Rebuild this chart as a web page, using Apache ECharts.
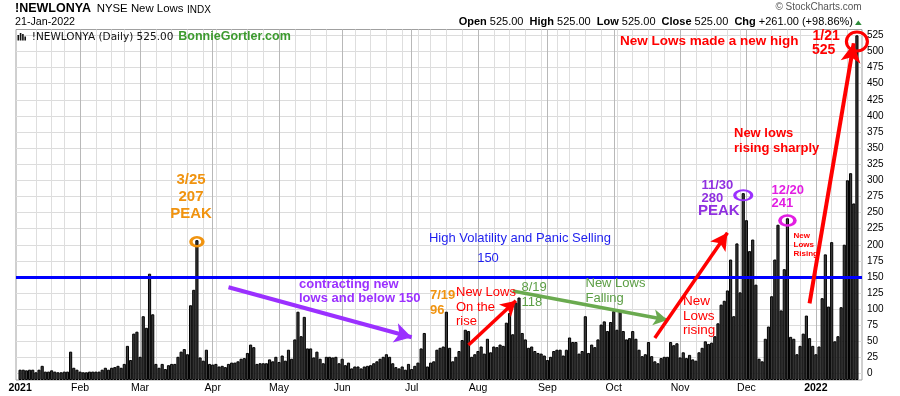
<!DOCTYPE html>
<html><head><meta charset="utf-8">
<script src="https://cdn.jsdelivr.net/npm/echarts@6/dist/echarts.min.js"></script>
<style>html,body{margin:0;padding:0;background:#fff}#c{width:900px;height:396px}</style>
</head><body><div id="c"></div>
<script>
// ---- data: NYSE new lows, daily ----
const jan21 = [6,6,5,6,6,2,6,12,3,3,5,3,2,2,3,3,34,9,6];
const feb21 = [3,2,2,3,3,3,3,6,9,6,9,10,12,9,15,43,21,62,65];
const mar21 = [26,89,71,155,92,15,9,15,7,13,15,15,26,34,38,30,106,130,207,25,20,37,15];
const apr21 = [14,15,11,12,10,15,17,17,19,23,24,32,45,41,15,16,16,16,22,19,26];
const may21 = [18,28,20,37,23,53,96,58,88,39,39,25,34,23,16,26,26,25,26,16];
const jun21 = [23,13,17,8,11,11,8,11,12,13,16,19,23,26,30,26,16,10,8,11,6,15];
const jul21 = [7,12,17,39,63,11,17,19,37,40,42,96,40,19,26,35,52,68,66,26,30];
const aug21 = [35,42,31,54,33,42,41,45,43,79,94,61,110,118,63,53,40,42,35,32,31,28];
const sep21 = [21,26,35,37,37,28,37,56,49,49,31,35,89,32,45,41,53,76,81,66,80];
const oct21 = [97,68,97,66,53,55,66,54,37,27,30,49,27,19,16,24,26,26,49,44,47];
const nov21 = [25,33,24,29,22,20,33,40,50,46,48,58,78,107,113,129,177,89,202,126,280];
const dec21 = [238,190,208,138,23,19,54,73,120,177,231,98,162,241,57,54,30,43,62,90,55,43];
const jan22 = [30,42,117,185,104,204,50,58,103,200,300,311,264,525];
const holidays = ['2021-01-18','2021-02-15','2021-04-02','2021-05-31','2021-07-05','2021-09-06','2021-11-25','2021-12-24','2022-01-17'];
const firstDay = [2021,0,4], lastDay = [2022,0,21];
const monthLabels = ['','Feb','Mar','Apr','May','Jun','Jul','Aug','Sep','Oct','Nov','Dec'];
const panicLevel = 150;

// ---- build categories ----
function pad(n){return n<10?'0'+n:''+n;}
const dates = [];
for (let t = Date.UTC(...firstDay); t <= Date.UTC(...lastDay); t += 86400000) {
  const d = new Date(t), wd = d.getUTCDay();
  const s = d.getUTCFullYear()+'-'+pad(d.getUTCMonth()+1)+'-'+pad(d.getUTCDate());
  if (wd !== 0 && wd !== 6 && holidays.indexOf(s) < 0) dates.push(s);
}
const values = [].concat(jan21,feb21,mar21,apr21,may21,jun21,jul21,aug21,sep21,oct21,nov21,dec21,jan22);
if (values.length !== dates.length) console.error('length mismatch', values.length, dates.length);
const monthStart = dates.map((s,i)=> i===0 || s.slice(0,7)!==dates[i-1].slice(0,7));
const dow = s => new Date(s+'T00:00:00Z').getUTCDay();
const weekStart = dates.map((s,i)=> i>0 && dow(s) < dow(dates[i-1]));
const idx = s => dates.indexOf(s);

const F = 'Arial, "Liberation Sans", sans-serif';
const ORANGE = '#f0930f', PURPLE = '#9b30ff', RED = '#ff0000', GREEN = '#5c9e45', MAG = '#e21fe2', BLUE = '#1f1fee';
function T(x, y, text, size, weight, color, align, family) {
  return {type:'text', x:x, y:y, silent:true, z:100,
    style:{text:text, font:(weight||'normal')+' '+size+'px '+(family||F), fill:color||'#000', align:align||'left', verticalAlign:'middle'}};
}
function arrow(x1,y1,x2,y2,color,width,head){
  const ls = {color:color, width:width, type:'solid'};
  return [{coord:[x1,y1], symbol:'none', lineStyle:ls},{coord:[x2,y2], symbol:'arrow', symbolSize:head, lineStyle:ls}];
}
function ring(i, v, size, color, bw){
  return {coord:[i, v], symbol:'circle', symbolSize:size, itemStyle:{color:'rgba(0,0,0,0)', borderColor:color, borderWidth:bw}};
}

const chart = echarts.init(document.getElementById('c'), null, {renderer:'canvas'});
chart.setOption({
  animation:false,
  backgroundColor:'#fff',
  grid:[
    {left:16, right:38, top:29.5, bottom:16, show:true, borderColor:'#a0a0a0', borderWidth:1, backgroundColor:'rgba(0,0,0,0)'},
    {left:16, right:38, top:35.3, bottom:22.3},
    {left:20.08, right:43.08, top:29.5, bottom:16},
    {left:18.5, right:41.5, top:29.5, bottom:16}
  ],
  xAxis:[
    {gridIndex:0, type:'value', show:false},
    {gridIndex:1, type:'value', show:false},
    {gridIndex:2, type:'category', data:dates, boundaryGap:false, axisLine:{show:false}, axisTick:{show:false}, axisLabel:{show:false},
      splitLine:{show:true, interval:(i)=>weekStart[i] && !monthStart[i], lineStyle:{color:'#dedede', width:1}}},
    {gridIndex:2, type:'category', data:dates, boundaryGap:false, axisLine:{show:false}, axisTick:{show:false}, axisLabel:{show:false},
      splitLine:{show:true, interval:(i)=>monthStart[i] && i>0, lineStyle:{color:'#b8b8b8', width:1}}},
    {gridIndex:3, type:'category', data:dates, boundaryGap:true, axisLine:{show:false}, axisTick:{show:false}, splitLine:{show:false},
      axisLabel:{interval:(i)=>monthStart[i], margin:3, fontSize:10.5, fontFamily:F, color:'#000',
        formatter:(v)=>{ const m = parseInt(v.slice(5,7),10); return m===1 ? '{b|'+v.slice(0,4)+'}' : monthLabels[m-1]; },
        rich:{b:{fontWeight:'bold', fontSize:10.5, fontFamily:F, color:'#000'}}}}
  ],
  yAxis:[
    {gridIndex:0, type:'value', show:false},
    {gridIndex:1, type:'value', min:0, max:525, interval:25, position:'right',
      axisLine:{show:false}, axisTick:{show:false},
      axisLabel:{fontSize:10, fontFamily:F, color:'#000', margin:5},
      splitLine:{show:true, lineStyle:{color:'#dcdcdc', width:1}}},
    {gridIndex:2, type:'value', show:false},
    {gridIndex:3, type:'value', min:-10, max:534, startValue:-10, show:false, splitLine:{show:false}}
  ],
  series:[{
    type:'bar', xAxisIndex:4, yAxisIndex:3, data:values, barCategoryGap:'0%', z:3,
    itemStyle:{color:'#3c3c3c', borderColor:'#000', borderWidth:1},
    markLine:{silent:true, label:{show:false}, symbol:['none','arrow'], animation:false,
      data:[
        [{yAxis:panicLevel, x:16, symbol:'none', lineStyle:{color:'#0000ff', width:3, type:'solid'}},{yAxis:panicLevel, x:862, symbol:'none', lineStyle:{color:'#0000ff', width:3, type:'solid'}}],
        arrow(65.9,133.9,124.3,56.3,PURPLE,4,[15,17]),
        arrow(141.9,44.3,156.7,113.1,RED,3.5,[13,15]),
        arrow(155.8,128.1,205.2,83.1,'#6aaa4f',3.5,[12,14]),
        arrow(201.4,55.2,224.3,218.6,RED,3.5,[14,17]),
        arrow(249.6,109,263.8,512.6,RED,4,[15,19])
      ]},
    markPoint:{silent:true, label:{show:false}, animation:false,
      data:[
        ring(idx('2021-03-25'), 204.6, [12,9], ORANGE, 3),
        ring(idx('2021-11-30'), 276.7, [17,10], PURPLE, 2.5),
        ring(idx('2021-12-20'), 237.5, [15,10], MAG, 3),
        ring(idx('2022-01-21'), 515.4, [21,19], RED, 3)
      ]}
  }],
  graphic:[
    T(15, 8.5, '!NEWLONYA', 12.5, 'bold'),
    T(96.7, 9.3, 'NYSE New Lows', 11.4),
    T(187, 9.8, 'INDX', 10),
    T(15, 22.5, '21-Jan-2022', 10.7),
    T(861.7, 7.5, '© StockCharts.com', 10, 'normal', '#555', 'right'),
    {type:'text', x:853, y:22, silent:true, z:100, style:{
      text:'{b|Open} 525.00  {b|High} 525.00  {b|Low} 525.00  {b|Close} 525.00  {b|Chg} +261.00 (+98.86%)',
      font:'11px '+F, fill:'#000', align:'right', verticalAlign:'middle',
      rich:{b:{font:'bold 11px '+F, fill:'#000'}}}},
    {type:'polygon', silent:true, z:100, shape:{points:[[855,25],[861.7,25],[858.3,20.5]]}, style:{fill:'#2e8b3a'}},
    {type:'rect', silent:true, z:100, shape:{x:17.5,y:35,width:1.6,height:5.5}, style:{fill:'#111'}},
    {type:'rect', silent:true, z:100, shape:{x:19.8,y:33,width:1.6,height:7.5}, style:{fill:'#111'}},
    {type:'rect', silent:true, z:100, shape:{x:22.1,y:34,width:1.6,height:6.5}, style:{fill:'#111'}},
    {type:'rect', silent:true, z:100, shape:{x:24.4,y:36.5,width:1.6,height:4}, style:{fill:'#111'}},
    T(31.7, 36.8, '!NEWLONYA (Daily) 525.00', 10.5, 'normal', '#111', 'left', '"DejaVu Sans", Verdana, sans-serif'),
    T(178.3, 36.7, 'BonnieGortler.com', 12.5, 'bold', '#3c9a2e'),
    T(620, 41, 'New Lows made a new high', 13.5, 'bold', RED),
    T(812.5, 36.5, '1/21', 14, 'bold', RED),
    T(812, 50.5, '525', 14, 'bold', RED),
    T(734, 133, 'New lows', 13, 'bold', RED),
    T(734, 148.5, 'rising sharply', 13, 'bold', RED),
    T(191, 179.5, '3/25', 15, 'bold', ORANGE, 'center'),
    T(191, 197, '207', 15, 'bold', ORANGE, 'center'),
    T(191, 213.5, 'PEAK', 15, 'bold', ORANGE, 'center'),
    T(520, 238, 'High Volatility and Panic Selling', 13, 'normal', BLUE, 'center'),
    T(488, 258, '150', 13, 'normal', BLUE, 'center'),
    T(299, 284, 'contracting new', 13, 'bold', PURPLE),
    T(299, 298.5, 'lows and below 150', 13, 'bold', PURPLE),
    T(430, 295, '7/19', 13, 'bold', ORANGE),
    T(430, 310, '96', 13, 'bold', ORANGE),
    T(456, 292, 'New Lows', 13, 'normal', RED),
    T(456, 307, 'On the', 13, 'normal', RED),
    T(456, 321.5, 'rise', 13, 'normal', RED),
    T(521.5, 287, '8/19', 13, 'normal', GREEN),
    T(521.5, 302, '118', 13, 'normal', GREEN),
    T(585.5, 283, 'New Lows', 13, 'normal', GREEN),
    T(585.5, 298, 'Falling', 13, 'normal', GREEN),
    T(683, 301, 'New', 13.5, 'normal', RED),
    T(683, 316, 'Lows', 13.5, 'normal', RED),
    T(683, 330.5, 'rising', 13.5, 'normal', RED),
    T(701.5, 185, '11/30', 13, 'bold', '#9030e0'),
    T(701.5, 198.5, '280', 13, 'bold', '#9030e0'),
    T(698, 210.8, 'PEAK', 15, 'bold', '#9030e0'),
    T(771.5, 190, '12/20', 13, 'bold', MAG),
    T(771.5, 203.5, '241', 13, 'bold', MAG),
    T(793.5, 236, 'New', 8, 'bold', RED),
    T(793.5, 244.8, 'Lows', 8, 'bold', RED),
    T(793.5, 254, 'Rising', 8, 'bold', RED)
  ]
});
</script>
</body></html>
